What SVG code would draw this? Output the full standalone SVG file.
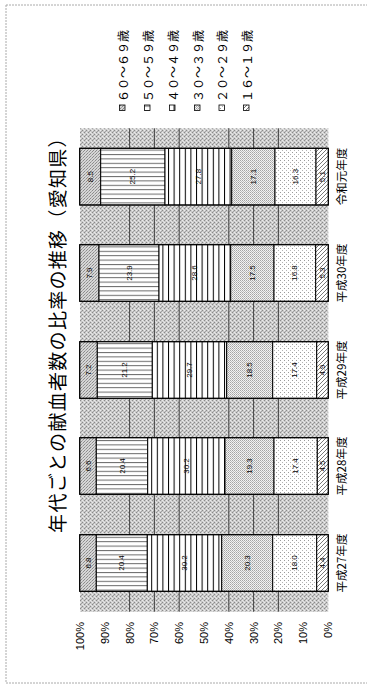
<svg xmlns="http://www.w3.org/2000/svg" width="367" height="691" viewBox="0 0 367 691">
<defs>
<pattern id="pBg" patternUnits="userSpaceOnUse" width="4" height="4"><rect width="4" height="4" fill="#cacaca"/><rect x="0" y="0" width="1" height="1" fill="#8a8a8a"/><rect x="2" y="2" width="1" height="1" fill="#8a8a8a"/><rect x="2" y="0" width="1" height="1" fill="#ececec"/><rect x="0" y="2" width="1" height="1" fill="#ececec"/><rect x="1" y="3" width="1" height="1" fill="#a4a4a4"/><rect x="3" y="1" width="1" height="1" fill="#e0e0e0"/></pattern>
<pattern id="p60" patternUnits="userSpaceOnUse" width="3" height="3"><rect width="3" height="3" fill="#d6d6d6"/><rect x="0" y="0" width="1" height="1" fill="#8c8c8c"/><rect x="2" y="1" width="1" height="1" fill="#8c8c8c"/><rect x="1" y="2" width="1" height="1" fill="#a8a8a8"/></pattern>
<pattern id="p50" patternUnits="userSpaceOnUse" width="4" height="4.4"><rect width="4" height="4.4" fill="#fff"/><rect x="0" y="0" width="4" height="1" fill="#6a6a6a"/></pattern>
<pattern id="p40" patternUnits="userSpaceOnUse" width="5.6" height="4"><rect width="5.6" height="4" fill="#fff"/><rect x="0" y="0" width="1" height="4" fill="#000"/></pattern>
<pattern id="p30" patternUnits="userSpaceOnUse" width="2" height="2"><rect width="2" height="2" fill="#f2f2f2"/><rect x="0" y="0" width="1" height="1" fill="#a4a4a4"/><rect x="1" y="1" width="1" height="1" fill="#bcbcbc"/></pattern>
<pattern id="p20" patternUnits="userSpaceOnUse" width="4" height="4"><rect width="4" height="4" fill="#fff"/><rect x="0" y="0" width="1" height="1" fill="#9a9a9a"/><rect x="2" y="2" width="1" height="1" fill="#b4b4b4"/></pattern>
<pattern id="p16" patternUnits="userSpaceOnUse" width="4" height="4"><rect width="4" height="4" fill="#fff"/><path d="M-1,1 L1,-1 M0,4 L4,0 M3,5 L5,3" stroke="#6a6a6a" stroke-width="0.9"/></pattern>
</defs>
<style>
text{font-family:"Liberation Sans","Noto Sans CJK JP",sans-serif;fill:#000}
.cjk{font-family:"Noto Sans CJK JP","Noto Sans CJK SC",sans-serif}
.title{font-size:19px;letter-spacing:1.3px}
.leg{font-size:12px}
.cat{font-size:11.5px}
.ax{font-size:11px}
.val{font-size:8px}
.bar rect{stroke:#000;stroke-width:1}
.outline{fill:none;stroke:#000;stroke-width:1.5}
.grid{stroke:#444;stroke-width:1}
.key{stroke:#000;stroke-width:0.8}
</style>
<rect x="6" y="5" width="370" height="678" fill="#fff" stroke="#aaa" stroke-dasharray="2,1"/>

<g id="title"><text class="cjk title" transform="translate(56,330) rotate(-90)" text-anchor="middle" dominant-baseline="central">年代ごとの献血者数の比率の推移（愛知県）</text></g>

<g id="legend">
<rect class="key" x="119.5" y="105" width="5.5" height="5.5" fill="url(#p60)"/><text class="cjk leg" transform="translate(122,102) rotate(-90)" dominant-baseline="central">６０～６９歳</text>
<rect class="key" x="144.5" y="105" width="5.5" height="5.5" fill="url(#p50)"/><text class="cjk leg" transform="translate(147,102) rotate(-90)" dominant-baseline="central">５０～５９歳</text>
<rect class="key" x="169.5" y="105" width="5.5" height="5.5" fill="url(#p40)"/><text class="cjk leg" transform="translate(172,102) rotate(-90)" dominant-baseline="central">４０～４９歳</text>
<rect class="key" x="194.5" y="105" width="5.5" height="5.5" fill="url(#p30)"/><text class="cjk leg" transform="translate(197,102) rotate(-90)" dominant-baseline="central">３０～３９歳</text>
<rect class="key" x="219" y="105" width="5.5" height="5.5" fill="url(#p20)"/><text class="cjk leg" transform="translate(221.5,102) rotate(-90)" dominant-baseline="central">２０～２９歳</text>
<rect class="key" x="243.5" y="105" width="5.5" height="5.5" fill="url(#p16)"/><text class="cjk leg" transform="translate(246,102) rotate(-90)" dominant-baseline="central">１６～１９歳</text>
</g>

<g id="plot">
<rect x="80" y="128.3" width="248.3" height="483.4" fill="url(#pBg)"/>
<line class="grid" x1="129.6" y1="128.3" x2="129.6" y2="611.7"/>
<line class="grid" x1="154.4" y1="128.3" x2="154.4" y2="611.7"/>
<line class="grid" x1="179.2" y1="128.3" x2="179.2" y2="611.7"/>
<line class="grid" x1="228.8" y1="128.3" x2="228.8" y2="611.7"/>
<line class="grid" x1="253.6" y1="128.3" x2="253.6" y2="611.7"/>
<line class="grid" x1="278.4" y1="128.3" x2="278.4" y2="611.7"/>
</g>

<g id="axis">
<text class="ax" transform="translate(80,622) rotate(-90)" text-anchor="end" dominant-baseline="central">100%</text>
<text class="ax" transform="translate(104.8,622) rotate(-90)" text-anchor="end" dominant-baseline="central">90%</text>
<text class="ax" transform="translate(129.6,622) rotate(-90)" text-anchor="end" dominant-baseline="central">80%</text>
<text class="ax" transform="translate(154.4,622) rotate(-90)" text-anchor="end" dominant-baseline="central">70%</text>
<text class="ax" transform="translate(179.2,622) rotate(-90)" text-anchor="end" dominant-baseline="central">60%</text>
<text class="ax" transform="translate(204,622) rotate(-90)" text-anchor="end" dominant-baseline="central">50%</text>
<text class="ax" transform="translate(228.8,622) rotate(-90)" text-anchor="end" dominant-baseline="central">40%</text>
<text class="ax" transform="translate(253.6,622) rotate(-90)" text-anchor="end" dominant-baseline="central">30%</text>
<text class="ax" transform="translate(278.4,622) rotate(-90)" text-anchor="end" dominant-baseline="central">20%</text>
<text class="ax" transform="translate(303.2,622) rotate(-90)" text-anchor="end" dominant-baseline="central">10%</text>
<text class="ax" transform="translate(328,622) rotate(-90)" text-anchor="end" dominant-baseline="central">0%</text>
</g>

<g id="bar-r1" class="bar">
<rect x="79.7" y="148.3" width="21" height="56.7" fill="url(#p60)"/>
<rect x="100.7" y="148.3" width="64.3" height="56.7" fill="url(#p50)"/>
<rect x="165" y="148.3" width="66.7" height="56.7" fill="url(#p40)"/>
<rect x="231.7" y="148.3" width="43.3" height="56.7" fill="url(#p30)"/>
<rect x="275" y="148.3" width="41" height="56.7" fill="url(#p20)"/>
<rect x="316" y="148.3" width="12.3" height="56.7" fill="url(#p16)"/>
<rect class="outline" x="79.7" y="148.3" width="248.6" height="56.7"/>
<text class="val" transform="translate(90.2,176.6) rotate(-90)" text-anchor="middle" dominant-baseline="central">8.5</text>
<text class="val" transform="translate(132.9,176.6) rotate(-90)" text-anchor="middle" dominant-baseline="central">25.2</text>
<text class="val" transform="translate(198.3,176.6) rotate(-90)" text-anchor="middle" dominant-baseline="central">27.8</text>
<text class="val" transform="translate(253.4,176.6) rotate(-90)" text-anchor="middle" dominant-baseline="central">17.1</text>
<text class="val" transform="translate(295.5,176.6) rotate(-90)" text-anchor="middle" dominant-baseline="central">16.3</text>
<text class="val" transform="translate(322.2,176.6) rotate(-90)" text-anchor="middle" dominant-baseline="central">5.1</text>
<text class="cjk cat" transform="translate(341,176.6) rotate(-90)" text-anchor="middle" dominant-baseline="central">令和元年度</text>
</g>

<g id="bar-h30" class="bar">
<rect x="79.7" y="244.7" width="19.3" height="56.6" fill="url(#p60)"/>
<rect x="99" y="244.7" width="60" height="56.6" fill="url(#p50)"/>
<rect x="159" y="244.7" width="71.7" height="56.6" fill="url(#p40)"/>
<rect x="230.7" y="244.7" width="43.3" height="56.6" fill="url(#p30)"/>
<rect x="274" y="244.7" width="41.7" height="56.6" fill="url(#p20)"/>
<rect x="315.7" y="244.7" width="12.6" height="56.6" fill="url(#p16)"/>
<rect class="outline" x="79.7" y="244.7" width="248.6" height="56.6"/>
<text class="val" transform="translate(89.4,273) rotate(-90)" text-anchor="middle" dominant-baseline="central">7.9</text>
<text class="val" transform="translate(129,273) rotate(-90)" text-anchor="middle" dominant-baseline="central">23.9</text>
<text class="val" transform="translate(194.9,273) rotate(-90)" text-anchor="middle" dominant-baseline="central">28.6</text>
<text class="val" transform="translate(252.4,273) rotate(-90)" text-anchor="middle" dominant-baseline="central">17.5</text>
<text class="val" transform="translate(294.9,273) rotate(-90)" text-anchor="middle" dominant-baseline="central">16.8</text>
<text class="val" transform="translate(322,273) rotate(-90)" text-anchor="middle" dominant-baseline="central">5.3</text>
<text class="cjk cat" transform="translate(341,273) rotate(-90)" text-anchor="middle" dominant-baseline="central">平成30年度</text>
</g>

<g id="bar-h29" class="bar">
<rect x="79.7" y="341.7" width="17.6" height="56.6" fill="url(#p60)"/>
<rect x="97.3" y="341.7" width="55" height="56.6" fill="url(#p50)"/>
<rect x="152.3" y="341.7" width="74.4" height="56.6" fill="url(#p40)"/>
<rect x="226.7" y="341.7" width="46" height="56.6" fill="url(#p30)"/>
<rect x="272.7" y="341.7" width="44" height="56.6" fill="url(#p20)"/>
<rect x="316.7" y="341.7" width="11.6" height="56.6" fill="url(#p16)"/>
<rect class="outline" x="79.7" y="341.7" width="248.6" height="56.6"/>
<text class="val" transform="translate(88.5,370) rotate(-90)" text-anchor="middle" dominant-baseline="central">7.2</text>
<text class="val" transform="translate(124.8,370) rotate(-90)" text-anchor="middle" dominant-baseline="central">21.2</text>
<text class="val" transform="translate(189.5,370) rotate(-90)" text-anchor="middle" dominant-baseline="central">29.7</text>
<text class="val" transform="translate(249.7,370) rotate(-90)" text-anchor="middle" dominant-baseline="central">18.5</text>
<text class="val" transform="translate(294.7,370) rotate(-90)" text-anchor="middle" dominant-baseline="central">17.4</text>
<text class="val" transform="translate(322.5,370) rotate(-90)" text-anchor="middle" dominant-baseline="central">4.9</text>
<text class="cjk cat" transform="translate(341,370) rotate(-90)" text-anchor="middle" dominant-baseline="central">平成29年度</text>
</g>

<g id="bar-h28" class="bar">
<rect x="79.7" y="437.7" width="16.6" height="56.6" fill="url(#p60)"/>
<rect x="96.3" y="437.7" width="51.4" height="56.6" fill="url(#p50)"/>
<rect x="147.7" y="437.7" width="77.3" height="56.6" fill="url(#p40)"/>
<rect x="225" y="437.7" width="49" height="56.6" fill="url(#p30)"/>
<rect x="274" y="437.7" width="43.3" height="56.6" fill="url(#p20)"/>
<rect x="317.3" y="437.7" width="11" height="56.6" fill="url(#p16)"/>
<rect class="outline" x="79.7" y="437.7" width="248.6" height="56.6"/>
<text class="val" transform="translate(88,466) rotate(-90)" text-anchor="middle" dominant-baseline="central">6.6</text>
<text class="val" transform="translate(122,466) rotate(-90)" text-anchor="middle" dominant-baseline="central">20.4</text>
<text class="val" transform="translate(186.4,466) rotate(-90)" text-anchor="middle" dominant-baseline="central">30.2</text>
<text class="val" transform="translate(249.5,466) rotate(-90)" text-anchor="middle" dominant-baseline="central">19.3</text>
<text class="val" transform="translate(295.7,466) rotate(-90)" text-anchor="middle" dominant-baseline="central">17.4</text>
<text class="val" transform="translate(322.8,466) rotate(-90)" text-anchor="middle" dominant-baseline="central">4.5</text>
<text class="cjk cat" transform="translate(341,466) rotate(-90)" text-anchor="middle" dominant-baseline="central">平成28年度</text>
</g>

<g id="bar-h27" class="bar">
<rect x="79.7" y="534.7" width="16.6" height="56.6" fill="url(#p60)"/>
<rect x="96.3" y="534.7" width="51" height="56.6" fill="url(#p50)"/>
<rect x="147.3" y="534.7" width="74.4" height="56.6" fill="url(#p40)"/>
<rect x="221.7" y="534.7" width="51" height="56.6" fill="url(#p30)"/>
<rect x="272.7" y="534.7" width="44" height="56.6" fill="url(#p20)"/>
<rect x="316.7" y="534.7" width="11.6" height="56.6" fill="url(#p16)"/>
<rect class="outline" x="79.7" y="534.7" width="248.6" height="56.6"/>
<text class="val" transform="translate(88,563) rotate(-90)" text-anchor="middle" dominant-baseline="central">6.8</text>
<text class="val" transform="translate(121.8,563) rotate(-90)" text-anchor="middle" dominant-baseline="central">20.4</text>
<text class="val" transform="translate(184.5,563) rotate(-90)" text-anchor="middle" dominant-baseline="central">30.2</text>
<text class="val" transform="translate(247.2,563) rotate(-90)" text-anchor="middle" dominant-baseline="central">20.3</text>
<text class="val" transform="translate(294.7,563) rotate(-90)" text-anchor="middle" dominant-baseline="central">18.0</text>
<text class="val" transform="translate(322.5,563) rotate(-90)" text-anchor="middle" dominant-baseline="central">4.4</text>
<text class="cjk cat" transform="translate(341,563) rotate(-90)" text-anchor="middle" dominant-baseline="central">平成27年度</text>
</g>
</svg>
